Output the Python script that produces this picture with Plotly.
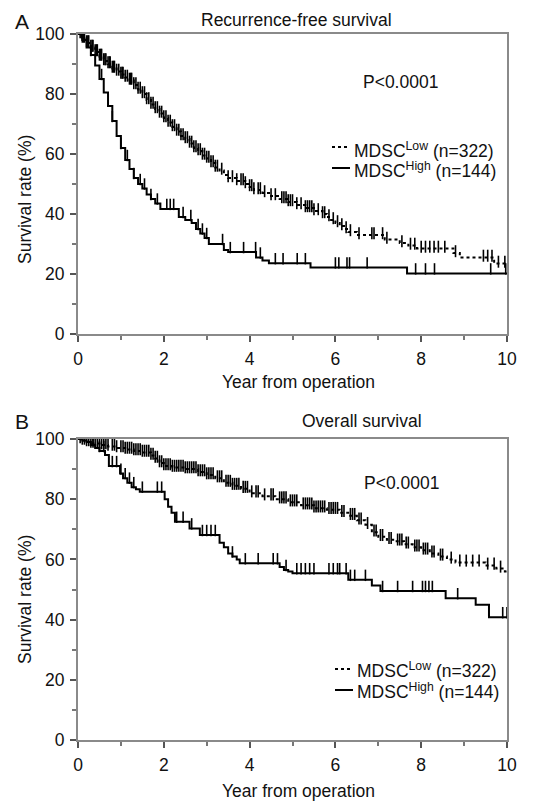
import numpy as np
import plotly.graph_objects as go

# ---------------- data ----------------
# Panel A: Recurrence-free survival
rfs_low_t = [0, 0.1, 0.2, 0.3, 0.4, 0.5, 0.6, 0.7, 0.8, 0.9, 1.0, 1.1, 1.2, 1.3, 1.4, 1.5,
             1.6, 1.7, 1.8, 1.9, 2.0, 2.1, 2.2, 2.3, 2.4, 2.5, 2.6, 2.7, 2.8, 2.9, 3.0, 3.1,
             3.2, 3.3, 3.4, 3.5, 3.7, 3.9, 4.0, 4.1, 4.3, 4.5, 4.7, 4.9, 5.1, 5.3, 5.5, 5.7,
             5.8, 5.9, 6.0, 6.1, 6.2, 6.3, 6.5, 7.15, 7.5, 7.7, 7.9, 8.75, 8.9, 9.7]
rfs_low_s = [100, 98.5, 97, 95.5, 94, 92.5, 91, 90, 88.5, 87.5, 86.5, 85.5, 84.5, 83, 81.5, 80,
             78, 76.5, 75, 73.5, 72, 70.5, 69, 67.5, 66, 65, 63.5, 62, 61, 59.5, 58.5, 57,
             55.5, 54.5, 53, 52, 51, 50, 49, 48, 47, 46, 45, 44, 43, 42, 41, 40,
             39, 38, 37, 36, 35, 34, 33, 31.5, 30.3, 29.5, 28.5, 27, 25.5, 23.5]
rfs_low_cens = [0.05, 0.08, 0.1, 0.13, 0.15, 0.2, 0.23, 0.25, 0.3, 0.33, 0.35, 0.4, 0.43, 0.45,
                0.5, 0.53, 0.55, 0.6, 0.63, 0.65, 0.7, 0.73, 0.75, 0.8, 0.83, 0.85, 0.9, 0.95,
                1.0, 1.03, 1.05, 1.1, 1.15, 1.2, 1.23, 1.25, 1.3, 1.35, 1.4, 1.45, 1.5, 1.55,
                1.6, 1.65, 1.7, 1.75, 1.8, 1.85, 1.9, 1.95, 2.0, 2.05, 2.1, 2.15, 2.2, 2.25,
                2.3, 2.35, 2.4, 2.45, 2.5, 2.55, 2.6, 2.65, 2.7, 2.75, 2.8, 2.85, 2.9, 2.95,
                3.0, 3.05, 3.1, 3.15, 3.2, 3.25, 3.35, 3.5, 3.6, 3.7, 3.8, 3.85, 3.9, 4.0,
                4.05, 4.1, 4.2, 4.25, 4.35, 4.5, 4.6, 4.75, 4.8, 4.85, 4.9, 4.95, 5.0, 5.1,
                5.2, 5.3, 5.35, 5.4, 5.45, 5.5, 5.6, 5.7, 5.75, 5.85, 5.95, 6.05, 6.15, 6.25,
                6.35, 6.55, 6.85, 6.9, 7.1, 7.2, 7.55, 7.75, 7.85, 8.0, 8.1, 8.2, 8.3, 8.4,
                8.55, 8.8, 9.45, 9.55, 9.65, 9.8, 9.95]

rfs_high_t = [0, 0.1, 0.2, 0.3, 0.4, 0.5, 0.6, 0.7, 0.8, 0.9, 1.0, 1.1, 1.2, 1.3, 1.4, 1.5,
              1.6, 1.7, 1.8, 1.92, 2.35, 2.5, 2.65, 2.75, 2.85, 2.95, 3.05, 3.4, 3.5, 4.15,
              4.3, 4.45, 5.42, 7.67]
rfs_high_s = [100, 98, 95.5, 93, 89.5, 85, 80.5, 76, 71, 66, 62, 58, 55, 52, 50, 48.5,
              46.5, 45, 43.5, 41.7, 39, 38, 37, 35, 33.5, 32, 30, 28, 27.3, 25.5,
              24.5, 23.6, 22.2, 20.2]
rfs_high_cens = [0.3, 0.55, 0.8, 1.0, 1.15, 1.3, 1.45, 1.55, 1.7, 1.85, 2.07, 2.15, 2.23,
                 2.45, 2.63, 2.8, 2.9, 3.0, 3.37, 3.55, 3.86, 4.14, 4.25, 4.6, 4.78, 5.11,
                 5.3, 6.0, 6.08, 6.27, 6.33, 6.74, 7.87, 8.1, 8.31, 9.62, 9.97]

# Panel B: Overall survival
os_low_t = [0, 0.1, 0.2, 0.3, 0.5, 0.7, 0.9, 1.1, 1.3, 1.5, 1.7, 1.8, 1.9, 2.0, 2.2, 2.5,
            2.8, 3.0, 3.2, 3.4, 3.6, 3.8, 4.0, 4.3, 4.6, 4.9, 5.2, 5.5, 5.8, 6.1, 6.3, 6.5,
            6.7, 6.85, 7.0, 7.2, 7.4, 7.6, 7.8, 8.0, 8.2, 8.4, 8.6, 8.8, 9.5, 9.75, 9.95]
os_low_s = [100, 99.5, 99, 98.5, 98, 97.5, 97, 96.5, 96, 95.5, 94.5, 93.5, 92, 91, 90.5, 90,
            89, 88, 87, 85.5, 84.5, 83.5, 82, 81, 80, 79, 78, 77, 76.5, 75.5, 74.5, 73,
            71.5, 69, 67.5, 66.5, 66, 65, 64, 63, 62, 61, 60, 59, 58, 57, 56]
os_low_cens = [0.05, 0.1, 0.15, 0.2, 0.25, 0.3, 0.35, 0.4, 0.45, 0.5, 0.55, 0.6, 0.65, 0.7,
               0.8, 0.85, 0.9, 1.0, 1.05, 1.1, 1.15, 1.2, 1.25, 1.3, 1.35, 1.4, 1.45, 1.5,
               1.55, 1.6, 1.65, 1.7, 1.75, 1.8, 1.85, 1.9, 1.95, 2.0, 2.05, 2.1, 2.15, 2.2,
               2.25, 2.3, 2.35, 2.4, 2.45, 2.5, 2.55, 2.6, 2.65, 2.7, 2.75, 2.8, 2.85, 2.9,
               2.95, 3.0, 3.05, 3.1, 3.15, 3.25, 3.3, 3.35, 3.45, 3.5, 3.55, 3.6, 3.65, 3.7,
               3.75, 3.85, 3.9, 3.95, 4.05, 4.15, 4.2, 4.35, 4.5, 4.55, 4.7, 4.75, 4.8, 4.85,
               4.95, 5.0, 5.05, 5.1, 5.25, 5.3, 5.35, 5.4, 5.45, 5.5, 5.55, 5.6, 5.65, 5.7,
               5.75, 5.85, 5.9, 5.95, 6.0, 6.05, 6.15, 6.2, 6.35, 6.4, 6.45, 6.55, 6.6, 6.75,
               6.9, 6.95, 7.05, 7.1, 7.25, 7.3, 7.45, 7.5, 7.55, 7.65, 7.7, 7.85, 7.9, 7.95,
               8.05, 8.1, 8.15, 8.25, 8.3, 8.45, 8.5, 8.7, 8.9, 9.05, 9.2, 9.35, 9.55, 9.7,
               9.85]

os_high_t = [0, 0.1, 0.2, 0.3, 0.4, 0.5, 0.63, 0.72, 0.98, 1.05, 1.15, 1.25, 1.35, 1.44,
             2.02, 2.1, 2.18, 2.26, 2.6, 2.84, 3.3, 3.4, 3.5, 3.6, 3.7, 3.77, 4.7, 4.8,
             4.9, 5.0, 6.3, 6.85, 7.05, 8.57, 9.27, 9.58]
os_high_s = [100, 99.5, 99, 98, 97, 96, 94.7, 91, 88.5, 87, 85.5, 84, 83.3, 82.5,
             80, 77.5, 75.5, 72.5, 70.3, 68.1, 65.5, 64, 62, 61, 60, 58.7, 57.5, 56.5,
             56, 55.4, 53.2, 51.3, 49.5, 47.1, 44.9, 40.8]
os_high_cens = [0.35, 0.5, 0.6, 0.8, 0.9, 1.0, 1.1, 1.2, 1.3, 1.5, 1.85, 1.95, 2.3, 2.45,
                2.65, 2.9, 3.0, 3.1, 3.2, 3.6, 3.9, 4.2, 4.55, 4.65, 4.85, 5.1, 5.2, 5.3,
                5.4, 5.5, 5.85, 5.95, 6.05, 6.1, 6.25, 6.35, 6.45, 6.7, 7.1, 7.45, 7.8,
                8.03, 8.1, 8.18, 8.26, 8.85, 9.9, 10.0]

x_ticks = [0, 2, 4, 6, 8, 10]
y_ticks = [0, 20, 40, 60, 80, 100]
END_T = 10

# ---------------- layout helpers ----------------
FONT = "Liberation Sans, Arial, Helvetica, sans-serif"
FS = 17.5
W, H = 542, 804
ML, MR, MT, MB = 78, 35, 34, 64


def pxx(xp):
    return (xp - ML) / (W - ML - MR)


def pxy(yp):
    return (H - MB - yp) / (H - MT - MB)


def surv_at(t_arr, s_arr, t):
    t_arr = np.asarray(t_arr)
    s_arr = np.asarray(s_arr)
    idx = np.searchsorted(t_arr, np.asarray(t), side="right") - 1
    return s_arr[idx]


fig = go.Figure()

panels = [
    ("x", "y", rfs_low_t, rfs_low_s, rfs_low_cens, rfs_high_t, rfs_high_s, rfs_high_cens),
    ("x2", "y2", os_low_t, os_low_s, os_low_cens, os_high_t, os_high_s, os_high_cens),
]

for xa, ya, lt, ls, lc, ht, hs, hc in panels:
    for t, s, c, dash, up, down in [(lt, ls, lc, "dot", 2.6, 1.4), (ht, hs, hc, "solid", 3.4, 0.4)]:
        fig.add_trace(go.Scatter(
            x=list(t) + [END_T], y=list(s) + [s[-1]], mode="lines",
            line=dict(color="black", width=2, dash=dash, shape="hv"),
            xaxis=xa, yaxis=ya, showlegend=False, hoverinfo="skip"))
        fig.add_trace(go.Scatter(
            x=c, y=surv_at(t, s, c), mode="markers",
            marker=dict(size=1, color="rgba(0,0,0,0)"),
            error_y=dict(type="constant", value=up, valueminus=down, symmetric=False,
                         thickness=1.6, width=0, color="black"),
            xaxis=xa, yaxis=ya, showlegend=False, hoverinfo="skip"))

axis_common = dict(
    showline=True, linecolor="#8a8a8a", linewidth=2, mirror=True,
    ticks="outside", ticklen=6, tickwidth=1.5, tickcolor="#555",
    showgrid=False, zeroline=False,
    tickfont=dict(family=FONT, size=FS, color="#111"),
)

dom_a = [pxy(334), 1.0]
dom_b = [0.0, pxy(439)]

fig.update_layout(
    width=W, height=H,
    margin=dict(l=ML, r=MR, t=MT, b=MB),
    paper_bgcolor="white", plot_bgcolor="white",
    font=dict(family=FONT, size=FS, color="#111"),
    xaxis=dict(axis_common, range=[0, 10], tickvals=x_ticks, anchor="y",
               minor=dict(ticks="outside", ticklen=4, tickcolor="#777", dtick=1),
               ticklabelstandoff=2),
    yaxis=dict(axis_common, range=[0, 100], tickvals=y_ticks, domain=dom_a, anchor="x",
               minor=dict(ticks="outside", ticklen=4, tickcolor="#777", dtick=10),
               ticklabelstandoff=2),
    xaxis2=dict(axis_common, range=[0, 10], tickvals=x_ticks, anchor="y2",
                minor=dict(ticks="outside", ticklen=4, tickcolor="#777", dtick=1),
                ticklabelstandoff=2),
    yaxis2=dict(axis_common, range=[0, 100], tickvals=y_ticks, domain=dom_b, anchor="x2",
                minor=dict(ticks="outside", ticklen=4, tickcolor="#777", dtick=10),
                ticklabelstandoff=2),
)

ann = []


def text(x, y, s, size=FS, xanchor="center", yanchor="middle", angle=0):
    ann.append(dict(x=pxx(x), y=pxy(y), xref="paper", yref="paper", text=s,
                    showarrow=False, xanchor=xanchor, yanchor=yanchor, textangle=angle,
                    font=dict(family=FONT, size=size, color="#111")))


# panel A
text(22, 21, "A", size=21)
text(296, 20, "Recurrence-free survival")
text(400, 82, "P<0.0001")
text(25, 200, "Survival rate (%)", angle=-90)
text(298, 382, "Year from operation")
text(352, 150, "MDSC<sup>Low</sup> (n=322)", xanchor="left")
text(352, 170, "MDSC<sup>High</sup> (n=144)", xanchor="left")
# panel B
text(22, 421, "B", size=21)
text(362, 421, "Overall survival")
text(401, 483, "P<0.0001")
text(25, 600, "Survival rate (%)", angle=-90)
text(298, 791, "Year from operation")
text(355, 670, "MDSC<sup>Low</sup> (n=322)", xanchor="left")
text(355, 691, "MDSC<sup>High</sup> (n=144)", xanchor="left")

shapes = []
for (x0, x1, y, dash) in [(332, 349, 147, "dot"), (332, 350, 168, "solid"),
                          (335, 353, 669, "dot"), (335, 353, 690, "solid")]:
    shapes.append(dict(type="line", xref="paper", yref="paper",
                       x0=pxx(x0), x1=pxx(x1), y0=pxy(y), y1=pxy(y),
                       line=dict(color="black", width=2, dash=dash)))

fig.update_layout(annotations=ann, shapes=shapes)

fig.write_html("out.html", config={"displayModeBar": False},
               post_script="document.body.style.margin='0';")
